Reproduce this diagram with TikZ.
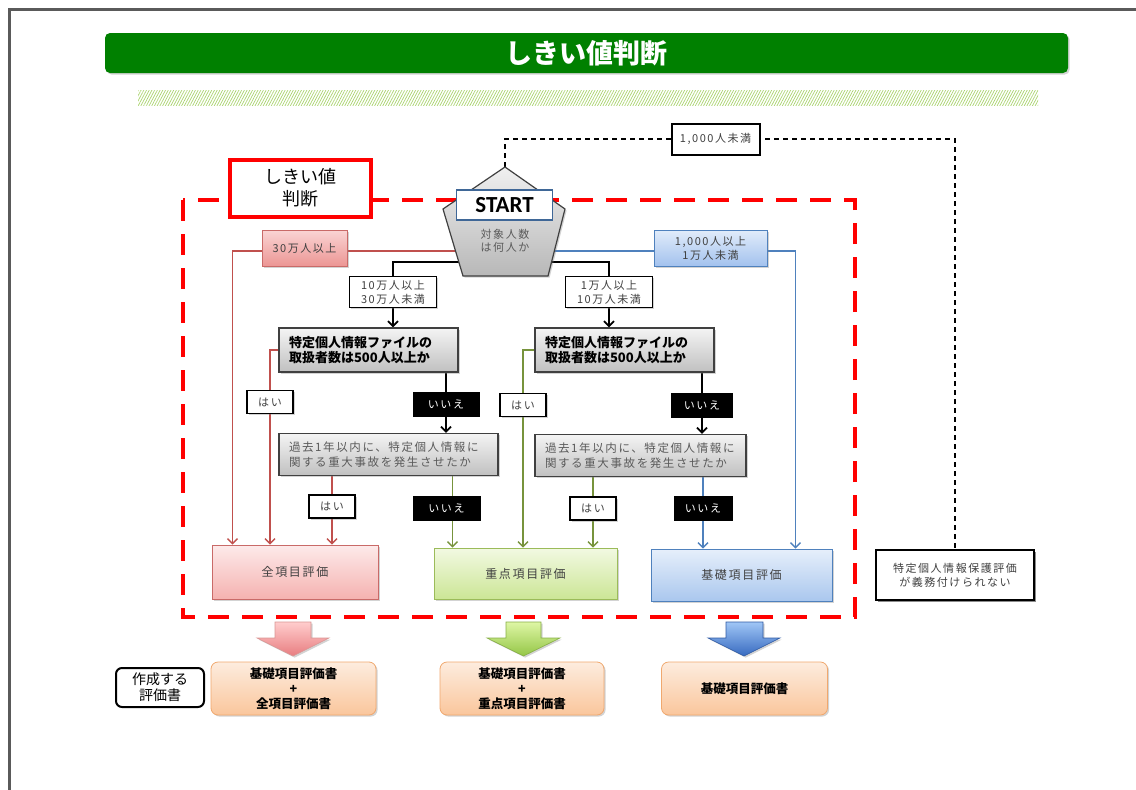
\documentclass[tikz,border=0pt]{standalone}
\usepackage{fontspec}
\setmainfont{Noto Sans CJK JP}
\newfontfamily\jl[LetterSpace=14]{Noto Sans CJK JP}
\newfontfamily\startfont{Carlito}
\usetikzlibrary{shadows,arrows.meta,patterns.meta}
\pgfdeclarelayer{back}
\pgfdeclarelayer{conn}
\pgfsetlayers{back,conn,main}
\definecolor{rlc}{RGB}{192,80,77}
\definecolor{glc}{RGB}{119,147,60}
\definecolor{blc}{RGB}{79,129,189}
\definecolor{ttlgreen}{RGB}{0,128,0}
\definecolor{txt}{RGB}{64,64,64}
\definecolor{txtg}{RGB}{90,90,90}
\definecolor{stripe}{RGB}{170,212,110}
\definecolor{framegray}{RGB}{90,90,90}
\definecolor{pinkT}{RGB}{250,212,212}
\definecolor{pinkB}{RGB}{236,150,148}
\definecolor{zenT}{RGB}{253,234,234}
\definecolor{zenB}{RGB}{245,178,176}
\definecolor{blueT}{RGB}{225,236,250}
\definecolor{blueB}{RGB}{163,194,238}
\definecolor{kisoT}{RGB}{230,239,251}
\definecolor{kisoB}{RGB}{170,199,238}
\definecolor{jyuT}{RGB}{242,249,226}
\definecolor{jyuB}{RGB}{204,230,150}
\definecolor{jyuD}{RGB}{155,187,89}
\definecolor{grayT}{RGB}{244,244,244}
\definecolor{grayB}{RGB}{192,192,192}
\definecolor{oraT}{RGB}{253,236,222}
\definecolor{oraB}{RGB}{250,198,156}
\definecolor{oraD}{RGB}{240,168,110}
\definecolor{apT}{RGB}{255,205,205}
\definecolor{apB}{RGB}{232,125,128}
\definecolor{agT}{RGB}{222,246,165}
\definecolor{agB}{RGB}{148,198,70}
\definecolor{agD}{RGB}{135,175,70}
\definecolor{abT}{RGB}{160,198,246}
\definecolor{abB}{RGB}{55,106,192}
\begin{document}
\begin{tikzpicture}[x=1pt,y=-1pt,
  every node/.style={inner sep=0pt,align=center},
  sh/.style={drop shadow={shadow xshift=1.6pt,shadow yshift=-1.6pt,opacity=0.35}},
  arr/.style={-{Straight Barb[length=5pt,width=10pt]}},
  rl/.style={draw=rlc,line width=1.4pt},
  gl/.style={draw=glc,line width=1.4pt},
  bl/.style={draw=blc,line width=1.4pt},
  kl/.style={draw=black,line width=1.8pt},
  dl/.style={draw=black,line width=1.3pt,dash pattern=on 5pt off 4pt},
  lab/.style={font=\jl\fontsize{11}{14}\selectfont,text=txt},
  titlebar/.style={rounded corners=5pt,fill=ttlgreen,minimum width=963pt,minimum height=40pt,
     text=white,font=\bfseries\fontsize{27}{30}\selectfont,sh},
  thrbox/.style={draw=red,line width=4pt,fill=white,minimum width=141pt,minimum height=57pt,
     font=\fontsize{18}{22}\selectfont,sh},
  startbox/.style={draw=blc!80!black,line width=1.6pt,fill=white,minimum width=96pt,minimum height=30pt,
     font=\startfont\bfseries\fontsize{23}{25}\selectfont},
  pinkbox/.style={lab,draw=rlc!85,line width=0.8pt,top color=pinkT,bottom color=pinkB,
     minimum width=85pt,minimum height=36pt,sh},
  bluebox/.style={lab,draw=blc,line width=0.8pt,top color=blueT,bottom color=blueB,
     minimum width=113pt,minimum height=36pt,sh},
  rangebox/.style={lab,draw=black,line width=1.6pt,fill=white,minimum width=87pt,minimum height=31pt,sh},
  qone/.style={draw=txt,line width=1.3pt,top color=grayT,bottom color=grayB,inner xsep=10pt,
     text width=159pt,align=left,minimum height=44pt,font=\bfseries\fontsize{13}{15.5}\selectfont,sh},
  qtwo/.style={draw=txt,line width=1.3pt,top color=grayT,bottom color=grayB,inner xsep=10pt,
     align=left,minimum height=42pt,font=\jl\fontsize{11.5}{14.5}\selectfont,text=txtg,sh},
  yesbox/.style={lab,draw=black,line width=1.4pt,fill=white,minimum width=46pt,minimum height=23pt,sh},
  nobox/.style={lab,draw=black,fill=black,text=white,minimum height=24pt},
  zenbox/.style={lab,font=\jl\fontsize{12}{14}\selectfont,draw=rlc!85,line width=0.8pt,top color=zenT,bottom color=zenB,
     minimum width=166pt,minimum height=54pt,sh},
  jyubox/.style={lab,font=\jl\fontsize{12}{14}\selectfont,draw=jyuD,line width=0.8pt,top color=jyuT,bottom color=jyuB,
     minimum width=183pt,minimum height=51pt,sh},
  kisobox/.style={lab,font=\jl\fontsize{12}{14}\selectfont,draw=blc,line width=0.8pt,top color=kisoT,bottom color=kisoB,
     minimum width=181pt,minimum height=52pt,sh},
  ltbox/.style={lab,draw=black,line width=2pt,fill=white,minimum width=88pt,minimum height=31pt,sh},
  notebox/.style={lab,draw=black,line width=1.4pt,fill=white,minimum width=158pt,minimum height=50pt,
     drop shadow={shadow xshift=2pt,shadow yshift=-2pt,opacity=0.9}},
  outbox/.style={rounded corners=7pt,draw=oraD,line width=0.8pt,top color=oraT,bottom color=oraB,
     minimum width=165pt,minimum height=53pt,font=\bfseries\fontsize{12.5}{15}\selectfont,sh},
  sakbox/.style={rounded corners=6pt,draw=black,line width=2pt,fill=white,minimum width=88pt,minimum height=39pt,
     font=\fontsize{14}{16}\selectfont},
  pent/.style={draw=black!75,line width=1.2pt,top color=black!6,bottom color=black!28,sh},
  bigarrow/.style={line width=0.6pt,sh},
]
\useasboundingbox (0,0) rectangle (1136,790);

% ---------- background ----------
\begin{pgfonlayer}{back}
  \draw[framegray,line width=3pt] (8,9) -- (1136,9);
  \draw[framegray,line width=3pt] (9,9) -- (9,790);
  \path[pattern={Lines[angle=62,distance=2.4pt,line width=0.7pt]},pattern color=stripe]
     (138,90) rectangle (1038,105);
  \draw[red,line width=4.5pt,dash pattern=on 21pt off 13pt] (183,200) rectangle (855,617);
\end{pgfonlayer}

% ---------- title ----------
\node[titlebar] (title) at (586.5,53) {しきい値判断};

% ---------- start ----------
\node[thrbox] (thr) at (300,188) {しきい値\\判断};
\coordinate (apex) at (505,167);
\coordinate (pr) at (565,209);
\coordinate (pbr) at (548,276);
\coordinate (pbl) at (463,276);
\coordinate (pl) at (443,209);
\path[pent] (apex) -- (pr) -- (pbr) -- (pbl) -- (pl) -- cycle;
\node[startbox] (start) at (504.5,205) {START};
\node[lab,text=txtg,font=\jl\fontsize{11}{13.5}\selectfont] (q0) at (505,241) {対象人数\\は何人か};
\coordinate (pL) at (505,251);
\coordinate (pB) at (505,262);

% ---------- ranges ----------
\node[pinkbox] (a30) at (304.5,248) {30万人以上};
\node[bluebox] (a1000) at (710.5,248) {1,000人以上\\1万人未満};
\node[rangebox] (a10) at (393,292) {10万人以上\\30万人未満};
\node[rangebox] (a1) at (609,292) {1万人以上\\10万人未満};
\node[ltbox] (lt1000) at (715.5,139) {1,000人未満};

% ---------- questions ----------
\node[qone] (q1L) at (368.5,350) {特定個人情報ファイルの\\取扱者数は500人以上か};
\node[qone] (q1R) at (624.5,350) {特定個人情報ファイルの\\取扱者数は500人以上か};
\node[qtwo,text width=199pt] (q2L) at (388.5,454.5) {過去1年以内に、特定個人情報に\\関する重大事故を発生させたか};
\node[qtwo,text width=191pt] (q2R) at (640.5,455.5) {過去1年以内に、特定個人情報に\\関する重大事故を発生させたか};

% ---------- yes / no ----------
\node[yesbox] (yes1L) at (270,402) {はい};
\node[nobox,minimum width=66pt] (no1L) at (446,404.5) {いいえ};
\node[yesbox] (yes2L) at (332,506.5) {はい};
\node[nobox,minimum width=67pt] (no2L) at (446.5,508.5) {いいえ};
\node[yesbox] (yes1R) at (523,405) {はい};
\node[nobox,minimum width=61pt] (no1R) at (702,405) {いいえ};
\node[yesbox] (yes2R) at (593,508.5) {はい};
\node[nobox,minimum width=58pt] (no2R) at (703,508.5) {いいえ};

% ---------- results ----------
\node[zenbox] (zen) at (295,572) {全項目評価};
\node[jyubox] (jyu) at (525.5,573.5) {重点項目評価};
\node[kisobox] (kiso) at (741.5,575) {基礎項目評価};
\node[notebox] (notreq) at (955,575) {特定個人情報保護評価\\が義務付けられない};
\coordinate (g1) at ([xshift=19pt]jyu.north west);

% ---------- connectors ----------
\begin{pgfonlayer}{conn}
  \draw[rl,arr] (pL) -| ([xshift=21pt]zen.north west);
  \draw[bl,arr] (pL) -| ([xshift=-37pt]kiso.north east);
  \draw[kl] (pB) -| (a10.north);
  \draw[kl] (pB) -| (a1.north);
  \draw[kl,arr] (a10.south) -- (a10.south |- q1L.north);
  \draw[kl,arr] (a1.south) -- (a1.south |- q1R.north);
  \draw[rl,arr] (q1L.west) -| (yes1L.center |- zen.north);
  \draw[kl,arr] (q1L.south -| no1L.center) -- (no1L.center |- q2L.north);
  \draw[rl,arr] (q2L.south -| yes2L.center) -- (yes2L.center |- zen.north);
  \draw[gl,arr] (q2L.south -| g1) -- (g1);
  \draw[gl,arr] (q1R.west) -| (yes1R.center |- jyu.north);
  \draw[kl,arr] (q1R.south -| no1R.center) -- (no1R.center |- q2R.north);
  \draw[gl,arr] (q2R.south -| yes2R.center) -- (yes2R.center |- jyu.north);
  \draw[bl,arr] (q2R.south -| no2R.center) -- (no2R.center |- kiso.north);
  \draw[dl] (apex) |- (lt1000.center) -| (notreq.north);
\end{pgfonlayer}

% ---------- big arrows ----------
\path[bigarrow,draw=rlc!60,top color=apT,bottom color=apB]
  (275,622) -- (311,622) -- (311,638) -- (329,638) -- (293,656) -- (257,638) -- (275,638) -- cycle;
\path[bigarrow,draw=agD,top color=agT,bottom color=agB]
  (506,622) -- (541,622) -- (541,638) -- (560,638) -- (523.5,656) -- (487,638) -- (506,638) -- cycle;
\path[bigarrow,draw=abB!85!black,top color=abT,bottom color=abB]
  (726,622) -- (763,622) -- (763,638) -- (780,638) -- (744,656) -- (708,638) -- (726,638) -- cycle;

% ---------- outputs ----------
\node[sakbox] (mk) at (160,687.5) {作成する\\評価書};
\node[outbox] (o1) at (293.5,688.5) {基礎項目評価書\\+\\全項目評価書};
\node[outbox,minimum width=164pt] (o2) at (522,688.5) {基礎項目評価書\\+\\重点項目評価書};
\node[outbox,minimum width=166pt] (o3) at (744.5,688.5) {基礎項目評価書};
\end{tikzpicture}
\end{document}
